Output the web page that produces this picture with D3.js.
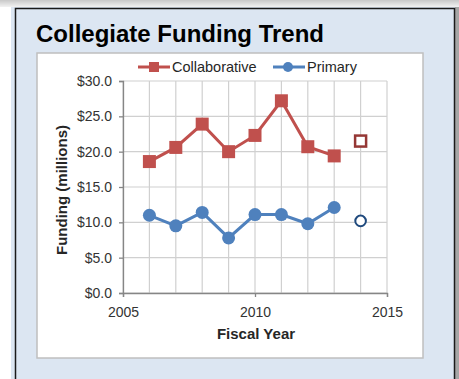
<!DOCTYPE html>
<html>
<head>
<meta charset="utf-8">
<script src="https://cdn.jsdelivr.net/npm/d3@7"></script>
<style>
  body { margin: 0; background: #fff; }
  text { font-family: Arial, "Liberation Sans", sans-serif; }
</style>
</head>
<body>
<div id="chart"></div>
<script>
const chart_width = 459;
const chart_height = 379;

// data
const years = [2006, 2007, 2008, 2009, 2010, 2011, 2012, 2013];
const collaborative = [18.6, 20.6, 23.9, 20.0, 22.3, 27.2, 20.7, 19.4];
const primary = [11.0, 9.5, 11.4, 7.8, 11.1, 11.1, 9.8, 12.1];
const projected_year = 2014;
const collaborative_projected = 21.5;
const primary_projected = 10.2;

const x_ticks = [2005, 2010, 2015];
const y_ticks = [0, 5, 10, 15, 20, 25, 30];
const x_grid = d3.range(2005, 2016);

const red = '#c0504d';
const blue = '#4f81bd';
const font = 'Arial, "Liberation Sans", sans-serif';

const svg = d3.select('#chart')
    .append('svg')
    .attr('width', chart_width)
    .attr('height', chart_height);

// top gray band
const grad = svg.append('defs').append('linearGradient')
    .attr('id', 'topband').attr('x1', 0).attr('y1', 0).attr('x2', 0).attr('y2', 1);
grad.append('stop').attr('offset', '0%').attr('stop-color', '#c8c8c8');
grad.append('stop').attr('offset', '100%').attr('stop-color', '#f2f2f2');
svg.append('rect').attr('x', 0).attr('y', 0).attr('width', chart_width).attr('height', 7)
    .attr('fill', 'url(#topband)');

// outer panel
svg.append('rect').attr('x', 11).attr('y', 7).attr('width', 444).attr('height', 372)
    .attr('fill', '#dce6f2');
svg.append('rect').attr('x', 455).attr('y', 7).attr('width', 4).attr('height', 372)
    .attr('fill', '#a6a6a6');
svg.append('path')
    .attr('d', 'M15.5,379 V8.5 H454.5 V379')
    .attr('fill', 'none').attr('stroke', '#1a1a1a').attr('stroke-width', 1.5);

// white chart box
svg.append('rect').attr('x', 37).attr('y', 53).attr('width', 386).attr('height', 305)
    .attr('fill', '#fff').attr('stroke', '#bfbfbf').attr('stroke-width', 1.5);

// title
svg.append('text')
    .attr('x', 36).attr('y', 42)
    .attr('font-size', 24).attr('font-weight', 'bold').attr('fill', '#000')
    .text('Collegiate Funding Trend');

const x_scale = d3.scaleLinear().domain([2005, 2015]).range([123, 387]);
const y_scale = d3.scaleLinear().domain([0, 30]).range([293, 81]);

// grid
svg.append('g').selectAll('line')
    .data(x_grid)
    .enter()
    .append('line')
    .attr('x1', d => x_scale(d)).attr('x2', d => x_scale(d))
    .attr('y1', y_scale(30)).attr('y2', y_scale(0))
    .attr('stroke', '#d0d0d0').attr('stroke-width', 1.2);

svg.append('g').selectAll('line')
    .data(y_ticks)
    .enter()
    .append('line')
    .attr('x1', x_scale(2005)).attr('x2', x_scale(2015))
    .attr('y1', d => y_scale(d)).attr('y2', d => y_scale(d))
    .attr('stroke', '#d0d0d0').attr('stroke-width', 1.2);

// axes
const x_axis = d3.axisBottom(x_scale)
    .tickValues(x_ticks)
    .tickFormat(d3.format('d'))
    .tickSize(4)
    .tickPadding(10);

const xg = svg.append('g')
    .attr('class', 'x-axis')
    .attr('transform', 'translate(0,' + y_scale(0) + ')')
    .call(x_axis);

const y_axis = d3.axisLeft(y_scale)
    .tickValues(y_ticks)
    .tickFormat(d => '$' + d3.format('.1f')(d))
    .tickSize(4)
    .tickPadding(7);

const yg = svg.append('g')
    .attr('class', 'y-axis')
    .attr('transform', 'translate(' + x_scale(2005) + ',0)')
    .call(y_axis);

[xg, yg].forEach(g => {
    g.attr('font-size', 14).attr('font-family', font);
    g.select('.domain').attr('stroke', '#868686').attr('stroke-width', 1.3);
    g.selectAll('.tick line').attr('stroke', '#868686').attr('stroke-width', 1.3);
    g.selectAll('.tick text').attr('fill', '#333');
});

// axis titles
svg.append('text')
    .attr('x', 256).attr('y', 339)
    .attr('text-anchor', 'middle')
    .attr('font-size', 15).attr('font-weight', 'bold').attr('fill', '#262626')
    .text('Fiscal Year');

svg.append('text')
    .attr('transform', 'translate(67,190) rotate(-90)')
    .attr('text-anchor', 'middle')
    .attr('font-size', 15).attr('font-weight', 'bold').attr('fill', '#262626')
    .text('Funding (millions)');

// lines
const line = d3.line()
    .x(d => x_scale(d[0]))
    .y(d => y_scale(d[1]));

const collab_pts = years.map((y, i) => [y, collaborative[i]]);
const primary_pts = years.map((y, i) => [y, primary[i]]);

svg.append('path')
    .attr('d', line(collab_pts))
    .attr('fill', 'none').attr('stroke', red).attr('stroke-width', 3);

svg.append('path')
    .attr('d', line(primary_pts))
    .attr('fill', 'none').attr('stroke', blue).attr('stroke-width', 3);

const sq = 13;
svg.append('g').selectAll('rect')
    .data(collab_pts)
    .enter()
    .append('rect')
    .attr('x', d => x_scale(d[0]) - sq / 2)
    .attr('y', d => y_scale(d[1]) - sq / 2)
    .attr('width', sq).attr('height', sq)
    .attr('fill', red);

svg.append('g').selectAll('circle')
    .data(primary_pts)
    .enter()
    .append('circle')
    .attr('cx', d => x_scale(d[0]))
    .attr('cy', d => y_scale(d[1]))
    .attr('r', 6.5)
    .attr('fill', blue);

// projected (hollow) markers
svg.append('rect')
    .attr('x', x_scale(projected_year) - 5.5)
    .attr('y', y_scale(collaborative_projected) - 5.5)
    .attr('width', 11).attr('height', 11)
    .attr('fill', '#fff').attr('stroke', '#953735').attr('stroke-width', 2.5);

svg.append('circle')
    .attr('cx', x_scale(projected_year))
    .attr('cy', y_scale(primary_projected))
    .attr('r', 5.3)
    .attr('fill', '#fff').attr('stroke', '#1f497d').attr('stroke-width', 2);

// legend
const legend = [
    { name: 'Collaborative', color: red, shape: 'square', x: 138 },
    { name: 'Primary', color: blue, shape: 'circle', x: 273 }
];
const ly = 67;
const lg = svg.append('g').selectAll('g')
    .data(legend)
    .enter()
    .append('g');

lg.append('line')
    .attr('x1', d => d.x).attr('x2', d => d.x + 32)
    .attr('y1', ly).attr('y2', ly)
    .attr('stroke', d => d.color).attr('stroke-width', 3);

lg.filter(d => d.shape === 'square').append('rect')
    .attr('x', d => d.x + 16 - 5).attr('y', ly - 5)
    .attr('width', 10).attr('height', 10)
    .attr('fill', d => d.color);

lg.filter(d => d.shape === 'circle').append('circle')
    .attr('cx', d => d.x + 15).attr('cy', ly)
    .attr('r', 5)
    .attr('fill', d => d.color);

lg.append('text')
    .attr('x', d => d.x + 34).attr('y', ly + 5)
    .attr('font-size', 14.5).attr('fill', '#262626')
    .text(d => d.name);
</script>
</body>
</html>
